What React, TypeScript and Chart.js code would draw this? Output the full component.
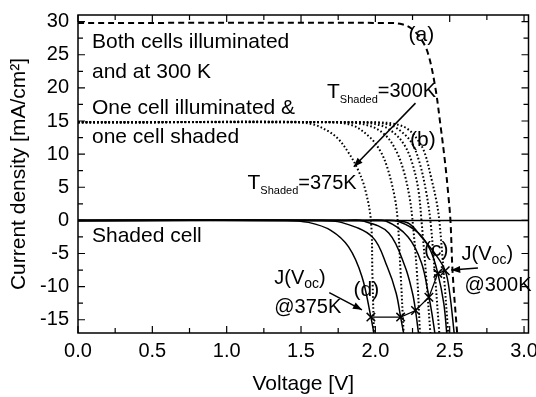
import { useEffect, useRef } from 'react';
import { Chart, registerables } from 'chart.js';

Chart.register(...registerables);

// ---- Axis ticks ----
const xTickValues = [0, 0.5, 1.0, 1.5, 2.0, 2.5, 3.0];
const yTickValues = [-15, -10, -5, 0, 5, 10, 15, 20, 25, 30];
const temperaturesK = [300, 315, 330, 345, 360, 375];

// ---- (a) both cells illuminated, 300 K ----
const bothV = [0, 2.1, 2.18, 2.24, 2.3, 2.35, 2.4, 2.44, 2.47, 2.49, 2.505, 2.52, 2.55];
const bothJ = [29.8, 29.8, 29.6, 29.0, 27.6, 25.5, 20.5, 14.0, 8.5, 4.0, 0, -8, -17];

// ---- (b) one cell illuminated & one cell shaded (per shaded temperature) ----
const comboV = [
  [0, 2.0, 2.12, 2.21, 2.28, 2.33, 2.38, 2.41, 2.43, 2.46, 2.49],
  [0, 1.95, 2.1, 2.18, 2.25, 2.3, 2.34, 2.37, 2.4, 2.43],
  [0, 1.88, 2.04, 2.13, 2.2, 2.25, 2.29, 2.31, 2.34, 2.37],
  [0, 1.8, 1.97, 2.07, 2.14, 2.19, 2.23, 2.25, 2.28, 2.3],
  [0, 1.7, 1.85, 1.96, 2.03, 2.08, 2.13, 2.15, 2.17, 2.19],
  [0, 1.45, 1.58, 1.68, 1.75, 1.82, 1.88, 1.93, 1.97, 1.98, 1.99],
];
const comboJ = [
  [14.8, 14.8, 14.6, 13.9, 12.3, 10.3, 6.0, 3.0, 0, -8, -17],
  [14.8, 14.8, 14.4, 13.3, 11.5, 8.5, 4.5, 0, -8, -17],
  [14.8, 14.8, 14.3, 13.1, 11.2, 8.5, 4.5, 0, -8, -17],
  [14.8, 14.8, 14.2, 12.8, 10.5, 7.5, 3.5, 0, -8, -17],
  [14.8, 14.8, 14.3, 12.6, 10.6, 8.0, 3.5, 0, -8, -17],
  [14.8, 14.8, 14.5, 13.5, 12.3, 10.2, 7.8, 4.8, 0, -8, -17],
];

// ---- (c)/(d) shaded cell (per temperature) ----
const shadedV = [
  [0, 2.1, 2.22, 2.31, 2.4, 2.47, 2.5, 2.53],
  [0, 2.05, 2.16, 2.29, 2.37, 2.42, 2.46, 2.48],
  [0, 1.95, 2.07, 2.22, 2.31, 2.36, 2.38, 2.4],
  [0, 1.8, 1.92, 2.09, 2.2, 2.25, 2.27, 2.29],
  [0, 1.62, 1.77, 1.98, 2.08, 2.14, 2.17, 2.19],
  [0, 1.4, 1.55, 1.7, 1.82, 1.91, 1.97, 1.99],
];
const shadedJ = [
  [0, 0, -0.4, -2.5, -5.0, -7.6, -11, -17],
  [0, 0, -0.2, -1.9, -4.5, -8.0, -12.5, -17],
  [0, 0, -0.1, -2.5, -6.4, -11.5, -14, -17],
  [0, 0, -0.1, -1.9, -7.0, -11, -13.6, -17],
  [0, 0, -0.3, -2.5, -7.0, -11, -14.6, -17],
  [0, 0, -0.3, -1.5, -4.0, -8.5, -14.6, -17],
];

// ---- J(Voc) locus ----
const jvocV = [1.97, 2.17, 2.27, 2.36, 2.42, 2.47];
const jvocJ = [-14.6, -14.6, -13.6, -11.6, -8.0, -7.6];

// ---- arrows [fromV, fromJ, toV, toJ] ----
const arrowTemp = [2.27, 17.7, 1.855, 8.1];
const arrow375 = [1.69, -10.9, 1.91, -13.5];
const arrow300 = [2.69, -7.2, 2.51, -7.5];

const zeroLineV = [0, 3.03];
const zeroLineJ = [0, 0];

const FONT = '"Liberation Sans", Arial, sans-serif';

type Part = { t: string; size: number; dy?: number };

function drawRich(ctx: CanvasRenderingContext2D, parts: Part[], x: number, y: number) {
  let cx = x;
  ctx.textBaseline = 'middle';
  ctx.textAlign = 'left';
  for (const p of parts) {
    ctx.font = `${p.size}px ${FONT}`;
    ctx.fillText(p.t, cx, y + (p.dy || 0));
    cx += ctx.measureText(p.t).width;
  }
}

const notes: { parts: Part[]; v: number; j: number; center?: boolean }[] = [
  { parts: [{ t: 'Both cells illuminated', size: 21 }], v: 0.094, j: 26.9 },
  { parts: [{ t: 'and at 300 K', size: 21 }], v: 0.094, j: 22.4 },
  { parts: [{ t: 'One cell illuminated &', size: 21 }], v: 0.094, j: 17.0 },
  { parts: [{ t: 'one cell shaded', size: 21 }], v: 0.094, j: 12.6 },
  { parts: [{ t: 'Shaded cell', size: 21 }], v: 0.094, j: -2.35 },
  { parts: [{ t: '(a)', size: 21 }], v: 2.31, j: 28.0, center: true },
  { parts: [{ t: '(b)', size: 21 }], v: 2.32, j: 12.1, center: true },
  { parts: [{ t: '(c)', size: 21 }], v: 2.41, j: -4.5, center: true },
  { parts: [{ t: '(d)', size: 21 }], v: 1.94, j: -10.5, center: true },
  {
    parts: [{ t: 'T', size: 21 }, { t: 'Shaded', size: 11, dy: 8 }, { t: '=300K', size: 20 }],
    v: 1.675, j: 19.4,
  },
  {
    parts: [{ t: 'T', size: 21 }, { t: 'Shaded', size: 11, dy: 8 }, { t: '=375K', size: 20 }],
    v: 1.14, j: 5.6,
  },
  {
    parts: [{ t: 'J(V', size: 20 }, { t: 'oc', size: 14, dy: 6 }, { t: ')', size: 20 }],
    v: 2.58, j: -5.1,
  },
  { parts: [{ t: '@300K', size: 20 }], v: 2.6, j: -9.9 },
  {
    parts: [{ t: 'J(V', size: 20 }, { t: 'oc', size: 14, dy: 6 }, { t: ')', size: 20 }],
    v: 1.32, j: -8.7,
  },
  { parts: [{ t: '@375K', size: 20 }], v: 1.32, j: -13.2 },
];

const decorPlugin = {
  id: 'decor',
  afterDatasetsDraw(chart: any) {
    const { ctx, chartArea: a, scales } = chart;
    const xs = scales.x;
    const ys = scales.y;
    ctx.save();
    ctx.strokeStyle = '#000';
    ctx.fillStyle = '#000';
    // frame
    ctx.lineWidth = 1.5;
    ctx.strokeRect(a.left, a.top, a.right - a.left, a.bottom - a.top);
    // inward ticks
    ctx.lineWidth = 1.2;
    for (let i = 0; i <= 12; i++) {
      const v = i * 0.25;
      const px = xs.getPixelForValue(v);
      const len = i % 2 === 0 ? 7 : 5;
      ctx.beginPath();
      ctx.moveTo(px, a.bottom); ctx.lineTo(px, a.bottom - len);
      ctx.moveTo(px, a.top); ctx.lineTo(px, a.top + len);
      ctx.stroke();
    }
    for (let k = -15; k <= 30; k += 2.5) {
      const py = ys.getPixelForValue(k);
      const len = k % 5 === 0 ? 7 : 5;
      ctx.beginPath();
      ctx.moveTo(a.left, py); ctx.lineTo(a.left + len, py);
      ctx.moveTo(a.right, py); ctx.lineTo(a.right - len, py);
      ctx.stroke();
    }
    // arrowheads
    for (const ar of [arrowTemp, arrow375, arrow300]) {
      const x0 = xs.getPixelForValue(ar[0]);
      const y0 = ys.getPixelForValue(ar[1]);
      const x1 = xs.getPixelForValue(ar[2]);
      const y1 = ys.getPixelForValue(ar[3]);
      const ang = Math.atan2(y1 - y0, x1 - x0);
      const L = 9, W = 3.5;
      ctx.beginPath();
      ctx.moveTo(x1, y1);
      ctx.lineTo(x1 - L * Math.cos(ang) + W * Math.sin(ang), y1 - L * Math.sin(ang) - W * Math.cos(ang));
      ctx.lineTo(x1 - L * Math.cos(ang) - W * Math.sin(ang), y1 - L * Math.sin(ang) + W * Math.cos(ang));
      ctx.closePath();
      ctx.fill();
    }
    // text notes
    for (const n of notes) {
      let x = xs.getPixelForValue(n.v);
      const y = ys.getPixelForValue(n.j);
      if (n.center) {
        let w = 0;
        for (const p of n.parts) { ctx.font = `${p.size}px ${FONT}`; w += ctx.measureText(p.t).width; }
        x -= w / 2;
      }
      drawRich(ctx, n.parts, x, y);
    }
    ctx.restore();
  },
};

function pts(v: number[], j: number[]) {
  return v.map((vv, i) => ({ x: vv, y: j[i] }));
}

export default function App() {
  const ref = useRef<HTMLCanvasElement>(null);
  useEffect(() => {
    if (!ref.current) return;
    const datasets: any[] = [];
    const base = { showLine: true, pointRadius: 0, borderColor: '#000', fill: false, tension: 0.35 };
    datasets.push({ ...base, data: pts(zeroLineV, zeroLineJ), borderWidth: 1.5, tension: 0 });
    datasets.push({ ...base, label: 'both', data: pts(bothV, bothJ), borderWidth: 2, borderDash: [6, 4] });
    temperaturesK.forEach((t, i) => {
      datasets.push({ ...base, label: `combo ${t}K`, data: pts(comboV[i], comboJ[i]), borderWidth: 2, borderDash: [1.6, 2.2] });
      datasets.push({ ...base, label: `shaded ${t}K`, data: pts(shadedV[i], shadedJ[i]), borderWidth: 1.5 });
    });
    datasets.push({
      showLine: true, label: 'J(Voc)', data: pts(jvocV, jvocJ), borderColor: '#000', borderWidth: 1.3,
      pointStyle: 'crossRot', pointRadius: 6, pointBorderWidth: 1.5, pointBorderColor: '#000', tension: 0,
    });
    for (const ar of [arrowTemp, arrow375, arrow300]) {
      datasets.push({ ...base, tension: 0, borderWidth: 1.5, data: [{ x: ar[0], y: ar[1] }, { x: ar[2], y: ar[3] }] });
    }
    const chart = new Chart(ref.current, {
      type: 'scatter',
      data: { datasets },
      plugins: [decorPlugin],
      options: {
        responsive: false,
        animation: false,
        devicePixelRatio: 1,
        layout: { padding: { left: 0, top: 15, right: 6, bottom: 0 } },
        plugins: { legend: { display: false }, tooltip: { enabled: false } },
        scales: {
          x: {
            type: 'linear', min: 0, max: 3.03,
            grid: { display: false, drawTicks: false },
            border: { display: false },
            afterBuildTicks: (s: any) => { s.ticks = xTickValues.map((v) => ({ value: v })); },
            afterFit: (s: any) => { s.height = 64; s.paddingLeft = 0; s.paddingRight = 0; },
            ticks: { color: '#000', font: { family: FONT, size: 20 }, padding: 6, callback: (v: any) => Number(v).toFixed(1) },
            title: { display: true, text: 'Voltage [V]', color: '#000', font: { family: FONT, size: 21 }, padding: { top: 0, bottom: 0 } },
          },
          y: {
            type: 'linear', min: -17, max: 31,
            grid: { display: false, drawTicks: false },
            border: { display: false },
            afterBuildTicks: (s: any) => { s.ticks = yTickValues.map((v) => ({ value: v })); },
            afterFit: (s: any) => { s.width = 78; s.paddingTop = 0; s.paddingBottom = 0; },
            ticks: { color: '#000', font: { family: FONT, size: 20 }, padding: 9, callback: (v: any) => String(v) },
            title: { display: true, text: 'Current density [mA/cm²]', color: '#000', font: { family: FONT, size: 21 }, padding: { top: 7, bottom: 0 } },
          },
        },
      },
    } as any);
    return () => chart.destroy();
  }, []);
  return (
    <div style={{ position: 'absolute', left: 0, top: 0, width: 536, height: 397, background: '#fff' }}>
      <canvas ref={ref} width={536} height={397} style={{ width: 536, height: 397 }} />
    </div>
  );
}
